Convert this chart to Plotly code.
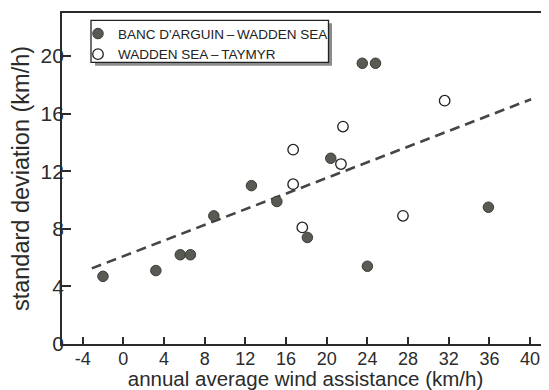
import plotly.graph_objects as go

# Data
banc_x = [-2.0, 3.2, 5.6, 6.6, 8.9, 12.6, 15.1, 18.1, 20.4, 23.5, 24.8, 24.0, 35.9]
banc_y = [4.7, 5.1, 6.2, 6.2, 8.9, 11.0, 9.9, 7.4, 12.9, 19.5, 19.5, 5.4, 9.5]

wst_x = [16.7, 16.7, 17.6, 21.4, 21.6, 27.5, 31.6]
wst_y = [13.5, 11.1, 8.1, 12.5, 15.1, 8.9, 16.9]

fit_x = [-3.1, 40.1]
fit_y = [5.25, 17.0]

x_ticks = [-4, 0, 4, 8, 12, 16, 20, 24, 28, 32, 36, 40]
x_labels = ["-4", "0", "4", "8", "12", "16", "20", "24", "28", "32", "36", "40"]
y_ticks = [0, 4, 8, 12, 16, 20]

FONT = "Liberation Sans, Arial, Helvetica, sans-serif"
INK = "#2b2b2b"

# page pixel -> plot-area paper coordinates
PL, PT, PW, PH = 62.0, 12.7, 487.0, 331.0
def px(xp):
    return (xp - PL) / PW
def py(yp):
    return 1 - (yp - PT) / PH

fig = go.Figure()

fig.add_trace(go.Scatter(
    x=fit_x, y=fit_y, mode="lines", showlegend=False,
    line=dict(color="#454545", width=2.6, dash="10px,6px"),
    hoverinfo="skip",
))

fig.add_trace(go.Scatter(
    x=banc_x, y=banc_y, mode="markers",
    name="BANC D'ARGUIN\u2009\u2013\u2009WADDEN SEA",
    marker=dict(size=10.5, color="#575b53", line=dict(color="#3a3c37", width=1)),
))

fig.add_trace(go.Scatter(
    x=wst_x, y=wst_y, mode="markers",
    name="WADDEN SEA\u2009\u2013\u2009TAYMYR",
    marker=dict(size=10.5, color="white", line=dict(color="#1e1e1e", width=1.3)),
))

# legend frame with drop shadow
fig.add_shape(type="rect", xref="paper", yref="paper", layer="above",
              x0=px(95), x1=px(332), y0=py(65.5), y1=py(23),
              fillcolor="#8c8c8c", line=dict(width=0))
fig.add_shape(type="rect", xref="paper", yref="paper", layer="above",
              x0=px(91), x1=px(328.5), y0=py(62), y1=py(20),
              fillcolor="white", line=dict(color="#222222", width=1.3))

fig.update_layout(
    width=541, height=382,
    margin=dict(l=54, r=0, t=5, b=46, pad=0),
    paper_bgcolor="white", plot_bgcolor="white",
    font=dict(family=FONT, color=INK),
    legend=dict(
        x=px(78), y=py(18), xanchor="left", yanchor="top",
        bgcolor="rgba(0,0,0,0)", borderwidth=0,
        font=dict(size=13.5, color="#222222", family=FONT),
        itemwidth=30, tracegroupgap=0,
    ),
    xaxis=dict(
        range=[-6.03, 41.86], tickvals=x_ticks, ticktext=x_labels,
        ticks="inside", ticklen=7, tickwidth=1.6, tickcolor=INK,
        showline=True, linecolor=INK, linewidth=1.8, mirror=True,
        showgrid=False, zeroline=False, automargin=False,
        ticklabelstandoff=-3,
        tickfont=dict(size=18, color=INK),
        title=dict(text="annual average wind assistance (km/h)",
                   font=dict(size=20.5, color=INK), standoff=7),
    ),
    yaxis=dict(
        range=[0, 22.99], tickvals=y_ticks,
        ticks="inside", ticklen=9, tickwidth=1.6, tickcolor=INK,
        showline=True, linecolor=INK, linewidth=1.8, mirror=False,
        showgrid=False, zeroline=False, automargin=False,
        ticklabelstandoff=-8,
        tickfont=dict(size=21, color=INK),
        title=dict(text="standard deviation (km/h)",
                   font=dict(size=23.5, color=INK), standoff=4),
    ),
)

fig.write_html("out.html")
